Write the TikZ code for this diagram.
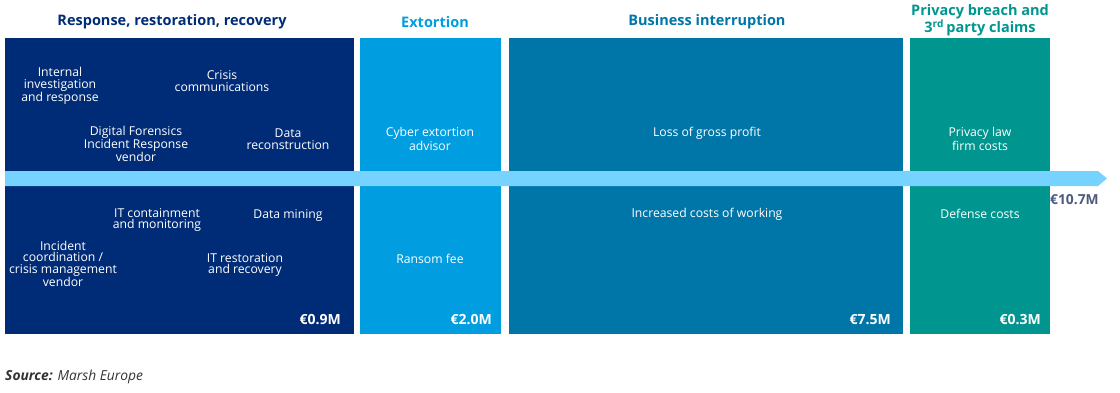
\documentclass[tikz,border=0pt]{standalone}
\usepackage{fontspec}
\setmainfont{Open Sans}
\usetikzlibrary{positioning}
\definecolor{respnavy}{HTML}{002C77}
\definecolor{extsky}{HTML}{009DE0}
\definecolor{bizblue}{HTML}{0076A8}
\definecolor{privteal}{HTML}{00968F}
\definecolor{bandblue}{HTML}{76D3FF}
\definecolor{slate}{HTML}{4B5A7D}
\definecolor{srcgray}{HTML}{333333}

\begin{document}
\begin{tikzpicture}[x=1pt,y=-1pt,
  cell/.style={fill=#1, draw=none, inner sep=0pt, anchor=north west, minimum height=296pt},
  head/.style={text=#1, font=\fontsize{14.5}{15.5}\selectfont\bfseries, align=center, inner sep=0pt},
  item/.style={text=white, font=\fontsize{12.2}{11.8}\selectfont, align=center, inner sep=0pt},
  amount/.style={text=white, font=\fontsize{14}{15}\selectfont\bfseries, anchor=east, inner sep=0pt}]
\useasboundingbox (0,0) rectangle (1120,392);
% column boxes
\node [cell=respnavy, minimum width=349pt] (resp) at (5,38) {};
\node [cell=extsky, minimum width=141pt] (ext) at (360,38) {};
\node [cell=bizblue, minimum width=394pt] (biz) at (509,38) {};
\node [cell=privteal, minimum width=140pt] (priv) at (910,38) {};
% headings
\node [head=respnavy] (resphead) at (172,22) {Response, restoration, recovery};
\node [head=extsky] (exthead) at (435,22) {Extortion};
\node [head=bizblue] (bizhead) at (707,22) {Business interruption};
\node [head=privteal] (privhead) at (980,20.5) {Privacy breach and\\3\textsuperscript{rd}\,party claims};
% total bar
\fill [bandblue] (5,171) -- (1098,171) -- (1107,178.5) -- (1098,186) -- (5,186) -- cycle;
\node [anchor=west, inner sep=0pt, text=slate, font=\fontsize{13.8}{15}\selectfont\bfseries] (total) at (1050,200) {€10.7M};
% response, restoration, recovery
\node [item] (internal) at (60,86) {Internal\\investigation\\and response};
\node [item] (crisis) at (222,81) {Crisis\\communications};
\node [item] (dfir) at (136,144) {Digital Forensics\\Incident Response\\vendor};
\node [item] (recon) at (288,139) {Data\\reconstruction};
\node [item] (contain) at (157,220) {IT containment\\and monitoring};
\node [item] (mining) at (288,215) {Data mining};
\node [item] (incident) at (63,264) {Incident\\coordination /\\crisis management\\vendor};
\node [item] (restore) at (245,265) {IT restoration\\and recovery};
% extortion
\node [item] (advisor) at (430,139) {Cyber extortion\\advisor};
\node [item] (ransom) at (430,259) {Ransom fee};
% business interruption
\node [item] (profit) at (707,133) {Loss of gross profit};
\node [item] (working) at (707,214) {Increased costs of working};
% privacy
\node [item] (lawfirm) at (980,139) {Privacy law\\firm costs};
\node [item] (defense) at (980,214) {Defense costs};
% amounts
\node [amount] (respamt) at (341,320) {€0.9M};
\node [amount] (extamt) at (492,320) {€2.0M};
\node [amount] (bizamt) at (891,320) {€7.5M};
\node [amount] (privamt) at (1041,320) {€0.3M};
% source
\node [anchor=west, inner sep=0pt, text=srcgray, font=\fontsize{13.8}{15}\selectfont\itshape] (src) at (5,377) {\textbf{Source:} Marsh Europe};
\end{tikzpicture}
\end{document}
